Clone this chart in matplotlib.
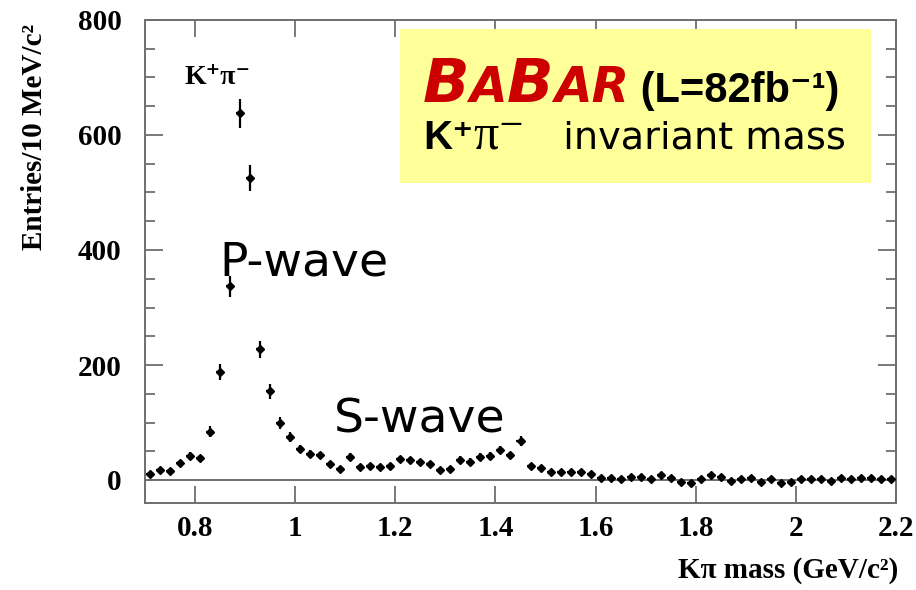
import numpy as np
import matplotlib
matplotlib.use("Agg")
import matplotlib.pyplot as plt
from matplotlib.patches import Rectangle
from matplotlib.offsetbox import TextArea, HPacker, AnchoredOffsetbox

# K pi invariant mass spectrum, 20 MeV bins from 0.70 to 2.20 GeV/c^2
mass_lo = 0.70
mass_hi = 2.20
bin_width = 0.02
counts = [
    10, 17, 16, 29, 42, 38, 84, 188, 337, 638, 525, 227, 154, 99, 75,
    54, 45, 43, 28, 20, 40, 22, 25, 23, 25, 36, 34, 31, 28, 18, 20, 35,
    32, 40, 42, 52, 43, 68, 25, 21,
    14, 14, 14, 14, 10, 3, 4, 2, 5, 5, 1, 8, 3, -3, -5, 1, 9, 6, -2, 2,
    3, -3, 1, -6, -3,
    1, 1, 1, -2, 4, 1, 4, 4, 1, 1,
]
x_ticks = [0.8, 1.0, 1.2, 1.4, 1.6, 1.8, 2.0, 2.2]
x_ticklabels = ["0.8", "1", "1.2", "1.4", "1.6", "1.8", "2", "2.2"]
y_ticks = [0, 200, 400, 600, 800]

counts = np.array(counts, dtype=float)
centers = mass_lo + bin_width * (np.arange(len(counts)) + 0.5)
errors = np.sqrt(np.maximum(np.abs(counts), 4.0))

plt.rcParams["font.family"] = ["Liberation Serif", "DejaVu Serif"]
plt.rcParams["font.weight"] = "bold"

frame_col = "#6e6e6e"

fig = plt.figure(figsize=(9.16, 5.90), dpi=100)
ax = fig.add_axes([145 / 916, 87 / 590, 751 / 916, 483 / 590])
ax.set_xlim(mass_lo, mass_hi)
ax.set_ylim(-40, 800)

ax.axhline(0, color=frame_col, lw=1.4, zorder=1)
ax.errorbar(centers, counts, yerr=errors, xerr=0.008, fmt="D", ms=3.6,
            color="black", ecolor="black", elinewidth=1.6, capsize=0, zorder=3)

for s in ax.spines.values():
    s.set_color(frame_col)
    s.set_linewidth(1.4)

ax.set_xticks(x_ticks)
ax.set_xticklabels(x_ticklabels)
ax.set_yticks(y_ticks)
ax.set_yticks(np.arange(0, 801, 50), minor=True)
ax.tick_params(axis="both", which="both", direction="in", color=frame_col,
               width=1.3, top=True, right=True, labelsize=21)
ax.tick_params(axis="y", which="major", length=13, pad=17)
ax.tick_params(axis="y", which="minor", length=7)
ax.tick_params(axis="x", which="major", length=12, pad=9)
ax.tick_params(axis="x", which="minor", length=0)

fig.text(898 / 916, 1 - 578 / 590, "K\u03c0 mass (GeV/c\u00b2)", ha="right",
         va="baseline", fontsize=21, fontweight="bold")
fig.text(35 / 916, 1 - 24 / 590, "Entries/10 MeV/c\u00b2", ha="center",
         va="top", rotation=90, fontsize=21, fontweight="bold")

# channel label in the corner
ax.text(0.778, 689, "K\u207a\u03c0\u207b", family=["Liberation Serif", "DejaVu Serif"],
        fontweight="bold", fontsize=20, ha="left", va="baseline")

# wave annotations
ax.text(0.848, 356, "P-wave", family="DejaVu Sans", fontweight="normal",
        fontsize=34, ha="left", va="baseline")
ax.text(1.078, 82, "S-wave", family="DejaVu Sans", fontweight="normal",
        fontsize=34, ha="left", va="baseline")

# experiment banner
ax.add_patch(Rectangle((0.3395, 0.6625), 0.6272, 0.3185, transform=ax.transAxes,
                       facecolor="#ffff99", edgecolor="none", zorder=4))

red = "#cc0000"
babar = dict(color=red, family="DejaVu Sans", style="italic", weight="bold")
sans_bold = dict(color="black", weight="bold", family=["Liberation Sans", "DejaVu Sans"])
line1 = HPacker(children=[
    TextArea("B", textprops=dict(fontsize=44, **babar)),
    TextArea("A", textprops=dict(fontsize=35, **babar)),
    TextArea("B", textprops=dict(fontsize=44, **babar)),
    TextArea("AR", textprops=dict(fontsize=35, **babar)),
    TextArea(" (L=82fb\u207b\u00b9)", textprops=dict(fontsize=30, **sans_bold)),
], align="baseline", pad=0, sep=0)
line2 = HPacker(children=[
    TextArea("K\u207a", textprops=dict(fontsize=29, **sans_bold)),
    TextArea("\u03c0\u207b", textprops=dict(fontsize=36, color="black", weight="normal",
                                            family=["Liberation Serif", "DejaVu Serif"])),
    TextArea("\u2003invariant mass", textprops=dict(fontsize=27.5, color="black",
                                                    weight="normal", family="DejaVu Sans")),
], align="baseline", pad=0, sep=0)

for box, (bx, by) in ((line1, (0.370, 0.8035)), (line2, (0.370, 0.711))):
    anch = AnchoredOffsetbox(loc="lower left", child=box, pad=0, borderpad=0,
                             frameon=False, bbox_to_anchor=(bx, by),
                             bbox_transform=ax.transAxes)
    anch.set_zorder(5)
    ax.add_artist(anch)

fig.savefig("out.png", dpi=100)
